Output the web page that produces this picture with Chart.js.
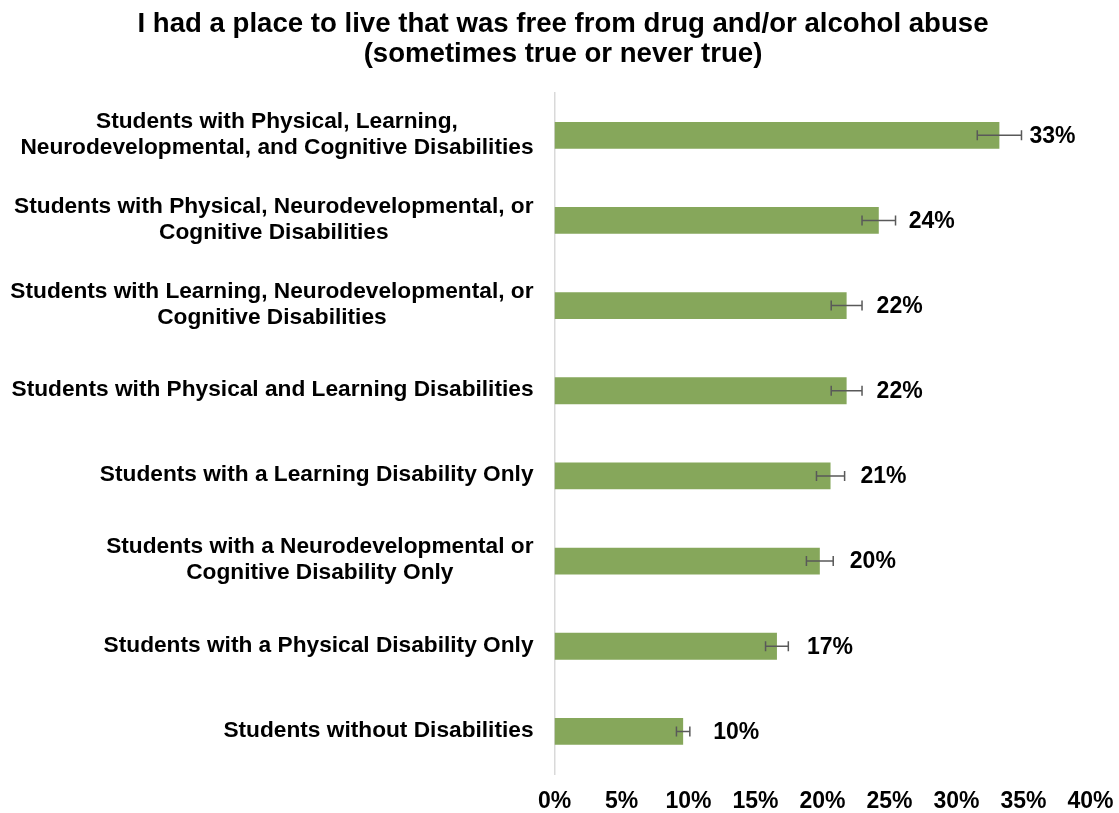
<!DOCTYPE html>
<html>
<head>
<meta charset="utf-8">
<script src="https://cdn.jsdelivr.net/npm/chart.js@4.4.1/dist/chart.umd.min.js"></script>
<style>
  html, body { margin: 0; padding: 0; background: #fff; }
  #wrap { width: 1119px; height: 813px; position: relative; }
</style>
</head>
<body>
<div id="wrap"><canvas id="chart"></canvas></div>
<script>
// category labels, one entry per bar (lines as Excel wrapped them)
var categories = [
  ['Students with Physical, Learning,', 'Neurodevelopmental, and Cognitive Disabilities'],
  ['Students with Physical, Neurodevelopmental, or', 'Cognitive Disabilities'],
  ['Students with Learning, Neurodevelopmental, or', 'Cognitive Disabilities'],
  ['Students with Physical and Learning Disabilities'],
  ['Students with a Learning Disability Only'],
  ['Students with a Neurodevelopmental or', 'Cognitive Disability Only'],
  ['Students with a Physical Disability Only'],
  ['Students without Disabilities']
];
var values = [33.2, 24.2, 21.8, 21.8, 20.6, 19.8, 16.6, 9.6];
var errors = [1.65, 1.25, 1.15, 1.15, 1.05, 1.0, 0.85, 0.5];
var xTickLabels = ['0%', '5%', '10%', '15%', '20%', '25%', '30%', '35%', '40%'];
var titleLines = [
  'I had a place to live that was free from drug and/or alcohol abuse',
  '(sometimes true or never true)'
];

var FONT = '"Liberation Sans", Arial, sans-serif';
var BAR_GREEN = '#86a75b';

// Excel-style wrapped labels: block right-aligned, lines centred on each other
var categoryLabels = {
  id: 'categoryLabels',
  afterDraw: function (chart) {
    var ctx = chart.ctx;
    var yScale = chart.scales.y;
    var right = chart.chartArea.left - 21;
    ctx.save();
    ctx.font = 'bold 22.7px ' + FONT;
    ctx.fillStyle = '#000';
    ctx.textAlign = 'center';
    ctx.textBaseline = 'middle';
    categories.forEach(function (lines, i) {
      var cy = yScale.getPixelForTick(i) - 1;
      var w = Math.max.apply(null, lines.map(function (l) { return ctx.measureText(l).width; }));
      var cx = right - w / 2;
      lines.forEach(function (l, j) {
        ctx.fillText(l, cx, cy + (j - (lines.length - 1) / 2) * 26);
      });
    });
    ctx.restore();
  }
};

// error bars + value labels
var errorBars = {
  id: 'errorBars',
  afterDatasetsDraw: function (chart) {
    var ctx = chart.ctx;
    var xScale = chart.scales.x;
    var meta = chart.getDatasetMeta(0);
    ctx.save();
    meta.data.forEach(function (bar, i) {
      var lo = xScale.getPixelForValue(values[i] - errors[i]);
      var hi = xScale.getPixelForValue(values[i] + errors[i]);
      ctx.strokeStyle = '#595959';
      ctx.lineWidth = 1.5;
      ctx.beginPath();
      ctx.moveTo(lo, bar.y); ctx.lineTo(hi, bar.y);
      ctx.moveTo(lo, bar.y - 5); ctx.lineTo(lo, bar.y + 5);
      ctx.moveTo(hi, bar.y - 5); ctx.lineTo(hi, bar.y + 5);
      ctx.stroke();

      ctx.fillStyle = '#000';
      ctx.font = 'bold 23px ' + FONT;
      ctx.textAlign = 'left';
      ctx.textBaseline = 'middle';
      ctx.fillText(Math.round(values[i]) + '%', bar.x + 30, bar.y + 1);
    });
    ctx.restore();
  }
};

new Chart(document.getElementById('chart'), {
  type: 'bar',
  data: {
    labels: categories,
    datasets: [{
      data: values,
      backgroundColor: BAR_GREEN,
      borderWidth: 0,
      categoryPercentage: 1,
      barPercentage: 0.315
    }]
  },
  options: {
    indexAxis: 'y',
    responsive: true,
    maintainAspectRatio: false,
    animation: false,
    layout: { padding: { left: 7, right: 0, top: 0, bottom: 0 } },
    plugins: {
      legend: { display: false },
      tooltip: { enabled: false },
      title: {
        display: true,
        text: titleLines,
        color: '#000',
        font: { family: FONT, size: 27.6, weight: 'bold', lineHeight: 1.1 },
        padding: { top: 9, bottom: 23 }
      }
    },
    scales: {
      x: {
        min: 0,
        max: 40,
        ticks: {
          stepSize: 5,
          autoSkip: false,
          maxRotation: 0,
          padding: 14,
          color: '#000',
          font: { family: FONT, size: 23, weight: 'bold' },
          callback: function (v, i) { return xTickLabels[i]; }
        },
        grid: { display: false, drawTicks: false },
        border: { display: false },
        afterFit: function (s) {
          s.height = 39;
          s.paddingLeft = 0;
          s.paddingRight = 28.5;
        }
      },
      y: {
        ticks: { display: false },
        grid: { display: false, drawTicks: false },
        border: { display: true, color: '#d9d9d9', width: 1.5 },
        afterFit: function (s) { s.width = 547.5; }
      }
    }
  },
  plugins: [errorBars, categoryLabels]
});
</script>
</body>
</html>
